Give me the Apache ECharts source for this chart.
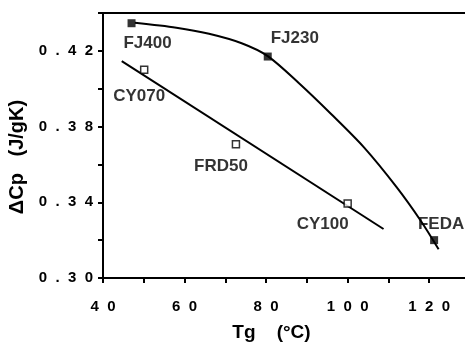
<!DOCTYPE html>
<html>
<head>
<meta charset="utf-8">
<script src="https://cdn.jsdelivr.net/npm/echarts@6/dist/echarts.min.js"></script>
<style>
  html, body { margin: 0; padding: 0; background: #fff; }
  #chart { width: 465px; height: 343px; }
</style>
</head>
<body>
<div id="chart"></div>
<script>
// FJ series (filled squares) and the curve drawn through them
const fjNames = ["FJ400", "FJ230", "FEDA"];
const fjTg = [47.0, 80.4, 121.2];
const fjCp = [0.4346, 0.417, 0.320];
const fjCurveTg = [47.8, 58, 66, 74, 80.4, 88, 96, 104, 112, 118, 122.3];
const fjCurveCp = [0.4348, 0.4322, 0.4290, 0.4240, 0.4172, 0.4030, 0.3865, 0.3690, 0.3480, 0.3300, 0.3152];

// CY series (open squares) and its straight fit line
const cyNames = ["CY070", "FRD50", "CY100"];
const cyTg = [50.1, 72.6, 100.0];
const cyCp = [0.410, 0.3706, 0.3394];
const cyLineTg = [44.6, 108.8];
const cyLineCp = [0.4146, 0.3259];

const fontFam = "'Liberation Sans', Arial, sans-serif";

// where each point's name sits, relative to its marker
const labelOffset = {
  FJ400: [16, 20],
  FJ230: [27, -18],
  FEDA: [7, -16],
  CY070: [-5, 27],
  FRD50: [-15, 22],
  CY100: [-25, 21],
};

function pairs(xs, ys) {
  return xs.map((x, i) => [x, ys[i]]);
}

function pointData(names, xs, ys) {
  return names.map((n, i) => ({
    name: n,
    value: [xs[i], ys[i]],
    label: { offset: labelOffset[n] },
  }));
}

// spread digits out like the typewriter-style ticks
function spaced(s) {
  return s.split("").join("  ");
}

const pointLabel = {
  show: true,
  position: "inside",
  formatter: (p) => p.name,
  color: "#000",
  fontFamily: fontFam,
  fontWeight: "bold",
  fontSize: 17,
};

const chart = echarts.init(document.getElementById("chart"));

chart.setOption({
  animation: false,
  backgroundColor: "#fff",
  grid: {
    left: 103,
    top: 13,
    bottom: 65,
    right: -5,
    outerBoundsMode: "none",
    containLabel: false,
    show: true,
    borderColor: "#000",
    borderWidth: 2,
  },
  xAxis: {
    type: "value",
    min: 40,
    max: 130,
    interval: 10,
    name: "Tg    (°C)",
    nameLocation: "middle",
    nameGap: 45,
    nameTextStyle: {
      color: "#000",
      fontFamily: fontFam,
      fontWeight: "bold",
      fontSize: 19,
      padding: [0, 30, 0, 0],
    },
    axisLine: { show: true, lineStyle: { color: "#000", width: 2 } },
    axisTick: { show: true, length: 5, lineStyle: { color: "#000", width: 2 } },
    splitLine: { show: false },
    axisLabel: {
      color: "#000",
      fontFamily: fontFam,
      fontWeight: "bold",
      fontSize: 15,
      margin: 21,
      showMaxLabel: false,
      formatter: (v) => (v % 20 === 0 && v <= 120 ? spaced(String(v)) : ""),
    },
  },
  yAxis: {
    type: "value",
    min: 0.30,
    max: 0.44,
    interval: 0.02,
    name: "ΔCp   (J/gK)",
    nameLocation: "middle",
    nameRotate: 90,
    nameGap: 73,
    nameTextStyle: {
      color: "#000",
      fontFamily: fontFam,
      fontWeight: "bold",
      fontSize: 20,
      padding: [0, 23, 0, 0],
    },
    axisLine: { show: true, lineStyle: { color: "#000", width: 2 } },
    axisTick: { show: true, length: 5, lineStyle: { color: "#000", width: 2 } },
    splitLine: { show: false },
    axisLabel: {
      color: "#000",
      fontFamily: fontFam,
      fontWeight: "bold",
      fontSize: 15,
      margin: 10,
      formatter: (v) => {
        const k = Math.round(v * 100);
        return k % 4 === 2 && k <= 42 ? spaced(v.toFixed(2)) : "";
      },
    },
  },
  series: [
    {
      type: "line",
      data: pairs(fjCurveTg, fjCurveCp),
      smooth: 0.3,
      showSymbol: false,
      lineStyle: { color: "#000", width: 2 },
      z: 2,
    },
    {
      type: "line",
      data: pairs(cyLineTg, cyLineCp),
      showSymbol: false,
      lineStyle: { color: "#000", width: 2 },
      z: 2,
    },
    {
      type: "scatter",
      symbol: "rect",
      symbolSize: 8,
      itemStyle: { color: "#000" },
      label: pointLabel,
      data: pointData(fjNames, fjTg, fjCp),
      z: 3,
    },
    {
      type: "scatter",
      symbol: "rect",
      symbolSize: 7,
      itemStyle: { color: "#fff", borderColor: "#000", borderWidth: 1.5 },
      label: pointLabel,
      data: pointData(cyNames, cyTg, cyCp),
      z: 3,
    },
  ],
});
</script>
</body>
</html>
